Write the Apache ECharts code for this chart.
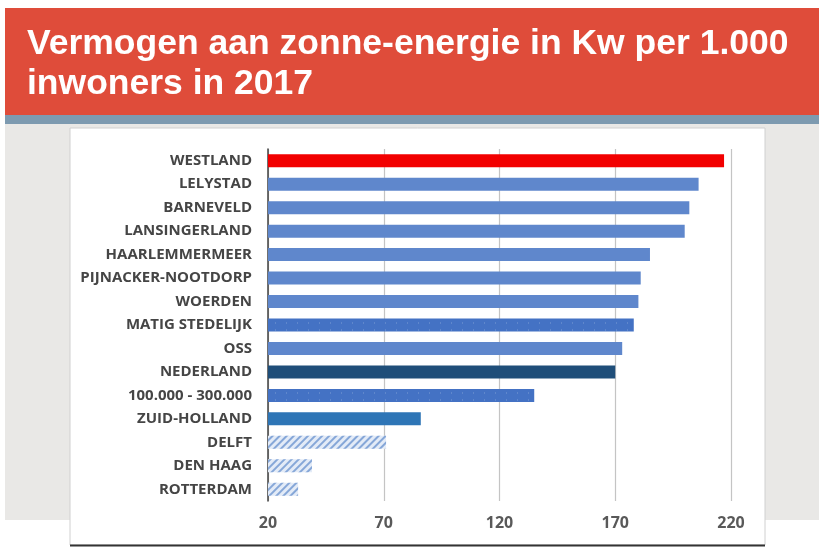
<!DOCTYPE html>
<html lang="nl">
  <head>
    <meta charset="utf-8" />
    <title>Zonne-energie per 1.000 inwoners</title>
    <style>
      html, body { margin: 0; padding: 0; background: #fff; }
      #chart-container { width: 819px; height: 547px; }
    </style>
  </head>
  <body>
    <div id="chart-container"></div>
    <script src="https://cdn.jsdelivr.net/npm/echarts@6/dist/echarts.min.js"></script>
    <script>
      // gemeenten / regio's, van boven naar beneden
      var categories = [
        "WESTLAND", "LELYSTAD", "BARNEVELD", "LANSINGERLAND", "HAARLEMMERMEER",
        "PIJNACKER-NOOTDORP", "WOERDEN", "MATIG STEDELIJK", "OSS", "NEDERLAND",
        "100.000 - 300.000", "ZUID-HOLLAND", "DELFT", "DEN HAAG", "ROTTERDAM"
      ];
      var values = [217, 206, 202, 200, 185, 181, 180, 178, 173, 170, 135, 86, 71, 39, 33];
      var ticks = [20, 70, 120, 170, 220];

      var plain = "#5f87cc";
      var dotted = {
        color: "#4472c4",
        decal: { symbol: "rect", symbolSize: 0.4, color: "rgba(255,255,255,0.75)", dashArrayX: [1, 10], dashArrayY: [2, 5], rotation: 0 }
      };
      var hatched = {
        color: "#e3ebf7",
        decal: { symbol: "rect", symbolSize: 1, color: "#86a7d8", dashArrayX: [1, 0], dashArrayY: [2, 3], rotation: -Math.PI / 4 }
      };
      var styleOf = {
        "WESTLAND": { color: "#f20000" },
        "MATIG STEDELIJK": dotted,
        "NEDERLAND": { color: "#1f4e79" },
        "100.000 - 300.000": dotted,
        "ZUID-HOLLAND": { color: "#2e75b6" },
        "DELFT": hatched,
        "DEN HAAG": hatched,
        "ROTTERDAM": hatched
      };

      var barData = categories.map(function (name, i) {
        return { value: values[i], itemStyle: styleOf[name] || { color: plain } };
      });

      var dom = document.getElementById("chart-container");
      var myChart = echarts.init(dom, null, { renderer: "canvas" });

      var option = {
        animation: false,
        graphic: [
          { type: "rect", z: -10, shape: { x: 5, y: 8, width: 814, height: 108 }, style: { fill: "#df4c3a" } },
          { type: "rect", z: -10, shape: { x: 5, y: 115, width: 814, height: 9 }, style: { fill: "#7d9ab0" } },
          { type: "rect", z: -10, shape: { x: 5, y: 124, width: 814, height: 396 }, style: { fill: "#e9e8e6" } },
          { type: "rect", z: -9, shape: { x: 70, y: 128, width: 695, height: 417 }, style: { fill: "#ffffff", stroke: "#d0d0d0", lineWidth: 1 } },
          { type: "line", z: -8, shape: { x1: 70, y1: 545.5, x2: 765, y2: 545.5 }, style: { stroke: "#333", lineWidth: 2 } },
          {
            type: "text", z: 10, left: 27, top: 24,
            style: {
              text: "Vermogen aan zonne-energie in Kw per 1.000\ninwoners in 2017",
              fill: "#ffffff",
              font: "bold 35.5px 'Liberation Sans', Arial, sans-serif",
              lineHeight: 40
            }
          }
        ],
        grid: { left: 268, right: 88, top: 149, bottom: 46, containLabel: false },
        xAxis: {
          type: "value",
          min: 20,
          max: 220,
          interval: 50,
          axisLine: { show: false },
          axisTick: { show: false },
          splitLine: { show: true, lineStyle: { color: "#c4c4c4", width: 1.2 } },
          axisLabel: {
            margin: 14,
            color: "#595959",
            fontSize: 16,
            fontWeight: "bold",
            fontFamily: "'Open Sans', sans-serif",
            customValues: ticks
          }
        },
        yAxis: {
          type: "category",
          inverse: true,
          data: categories,
          axisLine: { show: true, lineStyle: { color: "#404040", width: 1.5 } },
          axisTick: { show: false },
          axisLabel: {
            margin: 16,
            color: "#454545",
            fontSize: 15,
            fontWeight: "bold",
            fontFamily: "'Open Sans', sans-serif"
          }
        },
        series: [
          {
            type: "bar",
            data: barData,
            barWidth: 13
          }
        ]
      };

      myChart.setOption(option);
      window.addEventListener("resize", myChart.resize);
    </script>
  </body>
</html>
